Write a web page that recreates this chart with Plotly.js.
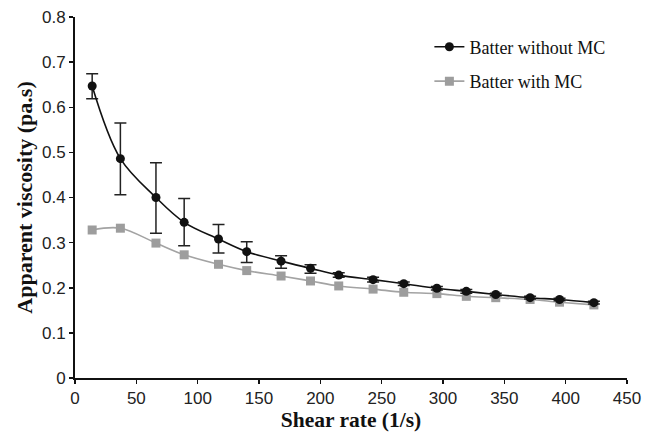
<!DOCTYPE html>
<html>
<head>
<meta charset="utf-8">
<script src="https://cdn.plot.ly/plotly-3.0.1.min.js"></script>
<style>html,body{margin:0;padding:0;background:#fff;}#chart{width:646px;height:434px;}</style>
</head>
<body>
<div id="chart"></div>
<script>
// Shear rate (1/s)
var shearRate = [14, 37, 66, 89, 117, 140, 168, 192, 215, 243, 268, 295, 319, 343, 371, 395, 423];
// Batter without MC (apparent viscosity, pa.s)
var withoutMC = [0.647, 0.486, 0.400, 0.345, 0.308, 0.280, 0.259, 0.243, 0.228, 0.218, 0.209, 0.199, 0.192, 0.185, 0.178, 0.174, 0.167];
var withoutMCErrPlus  = [0.027, 0.079, 0.077, 0.053, 0.032, 0.022, 0.012, 0.008, 0.005, 0.005, 0.004, 0.004, 0.004, 0.003, 0.003, 0.003, 0.003];
var withoutMCErrMinus = [0.028, 0.080, 0.079, 0.052, 0.031, 0.024, 0.016, 0.011, 0.005, 0.005, 0.004, 0.004, 0.004, 0.003, 0.003, 0.003, 0.003];
// Batter with MC
var withMC = [0.328, 0.332, 0.299, 0.273, 0.252, 0.238, 0.226, 0.215, 0.204, 0.197, 0.190, 0.187, 0.181, 0.178, 0.174, 0.168, 0.162];

var seriesNames = ['Batter without MC', 'Batter with MC'];

var traces = [
  {
    x: shearRate, y: withMC, name: seriesNames[1], legendgroup: 'b', legendrank: 2,
    type: 'scatter', mode: 'lines+markers',
    line: {color: '#a3a3a3', width: 1.6, shape: 'spline', smoothing: 1},
    marker: {symbol: 'square', size: 9, color: '#9d9d9d'}
  },
  {
    x: shearRate, y: withoutMC, name: seriesNames[0], legendgroup: 'a', legendrank: 1,
    type: 'scatter', mode: 'lines+markers',
    line: {color: '#111111', width: 1.6, shape: 'spline', smoothing: 1},
    marker: {symbol: 'circle', size: 9, color: '#111111'},
    error_y: {type: 'data', symmetric: false, array: withoutMCErrPlus, arrayminus: withoutMCErrMinus,
      color: '#222222', thickness: 1.5, width: 6}
  }
];

var layout = {
  width: 646, height: 434,
  margin: {l: 75, r: 19, t: 17, b: 56},
  paper_bgcolor: '#ffffff', plot_bgcolor: '#ffffff',
  showlegend: true,
  legend: {
    x: 0.642, y: 0.968, xanchor: 'left', yanchor: 'top',
    font: {family: '"Liberation Serif", "Times New Roman", serif', size: 18, color: '#111'},
    traceorder: 'grouped', tracegroupgap: 8, bgcolor: 'rgba(0,0,0,0)'
  },
  xaxis: {
    range: [0, 450], tickvals: [0, 50, 100, 150, 200, 250, 300, 350, 400, 450],
    showgrid: false, zeroline: false, showline: true, linecolor: '#111', linewidth: 2,
    ticks: 'outside', ticklen: 4, tickwidth: 1.5, tickcolor: '#111',
    tickfont: {family: '"Liberation Sans", Arial, sans-serif', size: 17, color: '#222'},
    title: {text: 'Shear rate (1/s)', standoff: 4,
      font: {family: '"Liberation Serif", "Times New Roman", serif', size: 21.5, color: '#111', weight: 'bold'}}
  },
  yaxis: {
    range: [0, 0.8], tickvals: [0, 0.1, 0.2, 0.3, 0.4, 0.5, 0.6, 0.7, 0.8],
    ticktext: ['0', '0.1', '0.2', '0.3', '0.4', '0.5', '0.6', '0.7', '0.8'],
    showgrid: false, zeroline: false, showline: true, linecolor: '#111', linewidth: 2,
    ticks: 'outside', ticklen: 4, tickwidth: 1.5, tickcolor: '#111',
    tickfont: {family: '"Liberation Sans", Arial, sans-serif', size: 17, color: '#222'},
    title: {text: 'Apparent viscosity (pa.s)', standoff: 3,
      font: {family: '"Liberation Serif", "Times New Roman", serif', size: 22, color: '#111', weight: 'bold'}}
  }
};

Plotly.newPlot('chart', traces, layout, {displayModeBar: false, staticPlot: true});
</script>
</body>
</html>
